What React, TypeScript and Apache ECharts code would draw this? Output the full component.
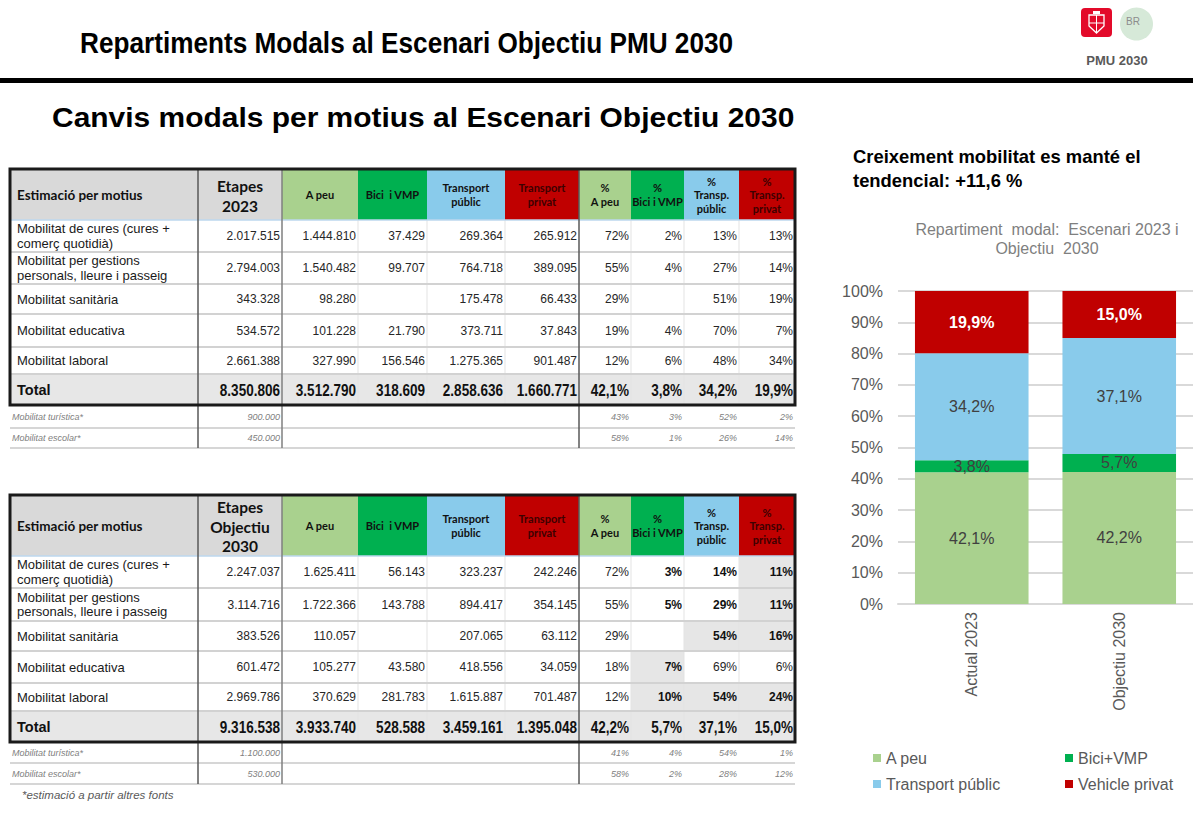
import React, { useEffect, useRef } from 'react';
import * as echarts from 'echarts';

// ---------- DATA ----------
const motius = [
  'Mobilitat de cures (cures +\ncomerç quotidià)',
  'Mobilitat per gestions\npersonals, lleure i passeig',
  'Mobilitat sanitària',
  'Mobilitat educativa',
  'Mobilitat laboral',
];
const extraMotius = ['Mobilitat turística*', 'Mobilitat escolar*'];

// Escenari 2023
const etapes2023 = [2017515, 2794003, 343328, 534572, 2661388];
const etapesTotal2023 = 8350806;
const aPeu2023 = [1444810, 1540482, 98280, 101228, 327990];
const bici2023 = [37429, 99707, null, 21790, 156546];
const tPublic2023 = [269364, 764718, 175478, 373711, 1275365];
const tPrivat2023 = [265912, 389095, 66433, 37843, 901487];
const modeTotals2023 = [3512790, 318609, 2858636, 1660771];
const pctAPeu2023 = [72, 55, 29, 19, 12];
const pctBici2023 = [2, 4, null, 4, 6];
const pctTPublic2023 = [13, 27, 51, 70, 48];
const pctTPrivat2023 = [13, 14, 19, 7, 34];
const pctTotals2023 = [42.1, 3.8, 34.2, 19.9];
const extraEtapes2023 = [900000, 450000];
const extraPct2023 = [[43, 3, 52, 2], [58, 1, 26, 14]];

// Escenari Objectiu 2030
const etapes2030 = [2247037, 3114716, 383526, 601472, 2969786];
const etapesTotal2030 = 9316538;
const aPeu2030 = [1625411, 1722366, 110057, 105277, 370629];
const bici2030 = [56143, 143788, null, 43580, 281783];
const tPublic2030 = [323237, 894417, 207065, 418556, 1615887];
const tPrivat2030 = [242246, 354145, 63112, 34059, 701487];
const modeTotals2030 = [3933740, 528588, 3459161, 1395048];
const pctAPeu2030 = [72, 55, 29, 18, 12];
const pctBici2030 = [3, 5, null, 7, 10];
const pctTPublic2030 = [14, 29, 54, 69, 54];
const pctTPrivat2030 = [11, 11, 16, 6, 24];
const pctTotals2030 = [42.2, 5.7, 37.1, 15.0];
const extraEtapes2030 = [1100000, 530000];
const extraPct2030 = [[41, 4, 54, 1], [58, 2, 28, 12]];

// Chart
const categories = ['Actual 2023', 'Objectiu 2030'];
const shareAPeu = [42.1, 42.2];
const shareBici = [3.8, 5.7];
const shareTPublic = [34.2, 37.1];
const shareVPrivat = [19.9, 15.0];
const yTicks = [0, 10, 20, 30, 40, 50, 60, 70, 80, 90, 100];

// ---------- STYLE ----------
const ARIAL = '"Liberation Sans", Arial, sans-serif';
const LATO = 'Lato, "Liberation Sans", sans-serif';
const C_APEU = '#a9d18e';
const C_BICI = '#00b050';
const C_TP = '#89cbeb';
const C_VP = '#c00000';

const fmtInt = (n: number | null) => (n == null ? '' : String(n).replace(/\B(?=(\d{3})+(?!\d))/g, '.'));
const fmtPct = (n: number | null) => (n == null ? '' : n + '%');
const fmtPct1 = (n: number) => n.toFixed(1).replace('.', ',') + '%';

type Opt = { size?: number; weight?: string; family?: string; color?: string; align?: string; italic?: boolean; lh?: number; sx?: number };
const T = (x: number, y: number, text: string, o: Opt = {}) => ({
  type: 'text', x, y, silent: true,
  scaleX: o.sx ?? 1,
  style: {
    text,
    fill: o.color ?? '#262626',
    fontSize: o.size ?? 12,
    fontWeight: o.weight ?? 'normal',
    fontFamily: o.family ?? ARIAL,
    fontStyle: o.italic ? 'italic' : 'normal',
    align: o.align ?? 'left', textAlign: o.align ?? 'left',
    verticalAlign: 'middle', textVerticalAlign: 'middle',
    lineHeight: o.lh,
  },
});
const R = (x: number, y: number, w: number, h: number, fill: string, stroke?: string, lw?: number, r?: number) => ({
  type: 'rect', silent: true,
  shape: { x, y, width: w, height: h, r: r ?? 0 },
  style: { fill, stroke: stroke ?? 'none', lineWidth: lw ?? 0 },
});
const L = (x1: number, y1: number, x2: number, y2: number, stroke: string, lw: number) => ({
  type: 'line', silent: true, shape: { x1, y1, x2, y2 }, style: { stroke, lineWidth: lw },
});

const COLS = [10, 198, 282, 358, 427, 505, 579, 631, 684, 739, 795];
const HEAD_FILL = ['#d9d9d9', '#d9d9d9', C_APEU, C_BICI, C_TP, C_VP, C_APEU, C_BICI, C_TP, C_VP];
const HEAD_TEXT = ['', '', 'A peu', 'Bici  i VMP', 'Transport\npúblic', 'Transport\nprivat', '%\nA peu', '%\nBici i VMP', '%\nTransp.\npúblic', '%\nTransp.\nprivat'];

interface Spec {
  ys: number[];
  etapesHead: string;
  etapesLh: number;
  etapes: number[];
  etapesTotal: number;
  abs: (number | null)[][];
  absTotals: number[];
  pct: (number | null)[][];
  pctTotals: number[];
  extraEtapes: number[];
  extraPct: number[][];
  hlBold?: boolean[][];
  hlBg?: boolean[][];
}

function buildTable(s: Spec) {
  const els: any[] = [];
  const ys = s.ys;
  const left = COLS[0];
  const right = COLS[10];
  for (let c = 0; c < 10; c++) els.push(R(COLS[c], ys[0], COLS[c + 1] - COLS[c], ys[1] - ys[0], HEAD_FILL[c]));
  if (s.hlBg) {
    s.hlBg.forEach((row, r) => row.forEach((on, k) => {
      if (on) els.push(R(COLS[7 + k], ys[1 + r], COLS[8 + k] - COLS[7 + k], ys[2 + r] - ys[1 + r], '#e6e6e6'));
    }));
  }
  els.push(R(left, ys[6], right - left, ys[7] - ys[6], '#e7e7e7'));
  for (const c of [3, 4, 5, 7, 8, 9]) els.push(L(COLS[c], ys[1], COLS[c], ys[7], '#e3e3e3', 1));
  els.push(L(left, ys[1], right, ys[1], '#bdd7ee', 1.5));
  for (let r = 2; r <= 6; r++) els.push(L(left, ys[r], right, ys[r], '#d2d2d2', 2));
  els.push(L(left, ys[8], right, ys[8], '#c8c8c8', 1.5));
  els.push(L(left, ys[9], right, ys[9], '#c8c8c8', 1.5));
  els.push(L(COLS[1], ys[0], COLS[1], ys[9], '#595959', 1.5));
  els.push(L(COLS[2], ys[0], COLS[2], ys[9], '#7f7f7f', 1.5));
  els.push(L(COLS[6], ys[0], COLS[6], ys[9], '#595959', 1.5));

  const hy = (ys[0] + ys[1]) / 2;
  els.push(T(17, hy, 'Estimació per motius', { family: LATO, weight: 'bold', size: 13.5, color: '#111' }));
  els.push(T((COLS[1] + COLS[2]) / 2, hy + 1, s.etapesHead, { family: LATO, weight: 'bold', size: 15.5, align: 'center', lh: s.etapesLh, color: '#111' }));
  for (let c = 2; c < 10; c++) {
    const red = c === 5 || c === 9;
    els.push(T((COLS[c] + COLS[c + 1]) / 2, hy, HEAD_TEXT[c], { family: LATO, weight: 'bold', size: 11, align: 'center', lh: 13.5, color: red ? '#3d0000' : '#111' }));
  }
  for (let r = 0; r < 5; r++) {
    const cy = (ys[1 + r] + ys[2 + r]) / 2;
    els.push(T(17, cy, motius[r], { size: 13, lh: 14.5, color: '#1a1a1a' }));
    els.push(T(COLS[2] - 2, cy, fmtInt(s.etapes[r]), { align: 'right', size: 12 }));
    for (let k = 0; k < 4; k++) els.push(T(COLS[3 + k] - 2, cy, fmtInt(s.abs[k][r]), { align: 'right', size: 12 }));
    for (let k = 0; k < 4; k++) {
      const bold = k > 0 && s.hlBold ? s.hlBold[r][k - 1] : false;
      els.push(T(COLS[7 + k] - 2, cy, fmtPct(s.pct[k][r]), { align: 'right', size: 12, weight: bold ? 'bold' : 'normal', color: bold ? '#111' : '#262626' }));
    }
  }
  const ty = (ys[6] + ys[7]) / 2;
  const tot: Opt = { align: 'right', weight: 'bold', size: 16.5, color: '#111', sx: 0.82 };
  els.push(T(17, ty, 'Total', { weight: 'bold', size: 14.5, color: '#111' }));
  els.push(T(COLS[2] - 2, ty, fmtInt(s.etapesTotal), tot));
  for (let k = 0; k < 4; k++) els.push(T(COLS[3 + k] - 2, ty, fmtInt(s.absTotals[k]), tot));
  for (let k = 0; k < 4; k++) els.push(T(COLS[7 + k] - 2, ty, fmtPct1(s.pctTotals[k]), tot));
  for (let r = 0; r < 2; r++) {
    const ey = (ys[7 + r] + ys[8 + r]) / 2;
    els.push(T(12, ey, extraMotius[r], { italic: true, size: 9, color: '#808080' }));
    els.push(T(COLS[2] - 2, ey, fmtInt(s.extraEtapes[r]), { italic: true, size: 9, color: '#808080', align: 'right' }));
    for (let k = 0; k < 4; k++) els.push(T(COLS[7 + k] - 2, ey, fmtPct(s.extraPct[r][k]), { italic: true, size: 9, color: '#808080', align: 'right' }));
  }
  els.push(R(left, ys[0], right - left, ys[7] - ys[0], 'none', '#1a1a1a', 3));
  return els;
}

function buildGraphic() {
  const els: any[] = [];
  els.push(T(80, 43, 'Repartiments Modals al Escenari Objectiu PMU 2030', { weight: 'bold', size: 30, color: '#000', sx: 0.873 }));
  els.push(R(0, 78, 1193, 5, '#000'));
  els.push(R(1081, 8, 31, 29, '#e30a2a', 'none', 0, 4));
  els.push(R(1093, 11, 7, 3, '#ffffff'));
  els.push({ type: 'polygon', silent: true, shape: { points: [[1089, 15], [1104, 15], [1104, 26], [1096.5, 33], [1089, 26]] }, style: { fill: 'none', stroke: '#ffffff', lineWidth: 1.3 } });
  els.push(L(1096.5, 15, 1096.5, 33, '#ffffff', 1));
  els.push(L(1089, 23, 1104, 23, '#ffffff', 1));
  els.push({ type: 'circle', silent: true, shape: { cx: 1136.5, cy: 24, r: 16.5 }, style: { fill: '#d6e9d8' } });
  els.push(T(1133, 21, 'BR', { size: 10, color: '#8c8c8c', align: 'center' }));
  els.push(T(1117, 60, 'PMU 2030', { weight: 'bold', size: 13, color: '#595959', align: 'center' }));
  els.push(T(52, 117, 'Canvis modals per motius al Escenari Objectiu 2030', { weight: 'bold', size: 28, color: '#000', sx: 1.07 }));
  els.push(T(853, 168, 'Creixement mobilitat es manté el\ntendencial: +11,6 %', { weight: 'bold', size: 19, color: '#000', lh: 24, sx: 0.97 }));
  els.push(T(1047, 239, 'Repartiment  modal:  Escenari 2023 i\nObjectiu  2030', { size: 16, color: '#7f7f7f', align: 'center', lh: 19 }));

  els.push(...buildTable({
    ys: [169, 220, 252, 284, 314, 347, 374, 405, 428, 448],
    etapesHead: 'Etapes\n2023', etapesLh: 20,
    etapes: etapes2023, etapesTotal: etapesTotal2023,
    abs: [aPeu2023, bici2023, tPublic2023, tPrivat2023], absTotals: modeTotals2023,
    pct: [pctAPeu2023, pctBici2023, pctTPublic2023, pctTPrivat2023], pctTotals: pctTotals2023,
    extraEtapes: extraEtapes2023, extraPct: extraPct2023,
  }));
  els.push(...buildTable({
    ys: [495, 556, 588, 621, 651, 683, 711, 742, 763, 784],
    etapesHead: 'Etapes\nObjectiu\n2030', etapesLh: 19.5,
    etapes: etapes2030, etapesTotal: etapesTotal2030,
    abs: [aPeu2030, bici2030, tPublic2030, tPrivat2030], absTotals: modeTotals2030,
    pct: [pctAPeu2030, pctBici2030, pctTPublic2030, pctTPrivat2030], pctTotals: pctTotals2030,
    extraEtapes: extraEtapes2030, extraPct: extraPct2030,
    hlBold: [[true, true, true], [true, true, true], [false, true, true], [true, false, false], [true, true, true]],
    hlBg: [[false, false, true], [false, false, true], [false, true, true], [true, false, false], [true, true, true]],
  }));
  els.push(T(22, 795, '*estimació a partir altres fonts', { italic: true, size: 11.5, color: '#595959' }));
  return els;
}

export default function App() {
  const ref = useRef<HTMLDivElement>(null);
  useEffect(() => {
    document.body.style.margin = '0';
    const chart = echarts.init(ref.current!, undefined, { renderer: 'svg' });
    const lbl = { show: true, position: 'inside', color: '#404040', fontSize: 16, fontFamily: ARIAL, formatter: (p: any) => fmtPct1(p.value) };
    const legendBase = { padding: 0, icon: 'rect', itemWidth: 8, itemHeight: 8, textStyle: { fontSize: 16, color: '#595959', fontFamily: ARIAL }, selectedMode: false };
    chart.setOption({
      animation: false,
      backgroundColor: '#ffffff',
      textStyle: { fontFamily: ARIAL },
      grid: { left: 898, top: 291, width: 303, height: 313, containLabel: false },
      xAxis: {
        type: 'category', data: categories,
        axisLine: { lineStyle: { color: '#d9d9d9', width: 2 } },
        axisTick: { show: false },
        axisLabel: { rotate: 90, margin: 8, fontSize: 16, color: '#595959', fontFamily: ARIAL },
      },
      yAxis: {
        type: 'value', min: yTicks[0], max: yTicks[yTicks.length - 1], interval: 10,
        axisLine: { show: false }, axisTick: { show: false },
        axisLabel: { formatter: '{value}%', fontSize: 16, color: '#595959', margin: 15, fontFamily: ARIAL },
        splitLine: { lineStyle: { color: '#d9d9d9', width: 2 } },
      },
      legend: [
        { ...legendBase, data: ['A peu'], left: 873, top: 750 },
        { ...legendBase, data: ['Bici+VMP'], left: 1065, top: 750 },
        { ...legendBase, data: ['Transport públic'], left: 873, top: 776 },
        { ...legendBase, data: ['Vehicle privat'], left: 1065, top: 776 },
      ],
      series: [
        { name: 'A peu', type: 'bar', stack: 'm', barWidth: '77%', data: shareAPeu, itemStyle: { color: C_APEU }, label: lbl },
        { name: 'Bici+VMP', type: 'bar', stack: 'm', data: shareBici, itemStyle: { color: C_BICI }, label: lbl },
        { name: 'Transport públic', type: 'bar', stack: 'm', data: shareTPublic, itemStyle: { color: C_TP }, label: lbl },
        { name: 'Vehicle privat', type: 'bar', stack: 'm', data: shareVPrivat, itemStyle: { color: C_VP }, label: { ...lbl, color: '#ffffff', fontWeight: 'bold' } },
      ],
      graphic: { elements: buildGraphic() },
    });
    return () => chart.dispose();
  }, []);
  return <div ref={ref} style={{ position: 'fixed', left: 0, top: 0, width: 1193, height: 817, background: '#fff' }} />;
}
